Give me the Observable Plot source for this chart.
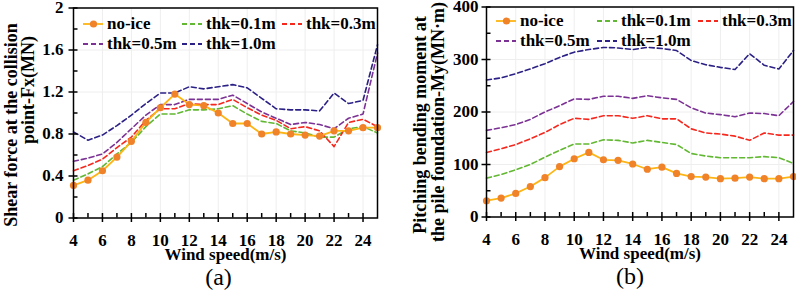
<!DOCTYPE html>
<html>
<head>
<meta charset="utf-8">
<script src="https://cdn.jsdelivr.net/npm/d3@7"></script>
<script src="https://cdn.jsdelivr.net/npm/@observablehq/plot@0.6"></script>
<style>
  html, body { margin: 0; padding: 0; background: #fff; }
  #wrap { position: relative; width: 796px; height: 293px; overflow: hidden; background: #fff;
          font-family: "Liberation Serif", "Times New Roman", serif; }
  .panel { position: absolute; top: 0; }
  .leg { position: absolute; height: 20px; display: flex; align-items: center;
         font-size: 17px; font-weight: bold; color: #000; white-space: nowrap; }
  .leg svg { display: block; margin-right: 4px; }
</style>
</head>
<body>
<div id="wrap">
  <div id="pa" class="panel" style="left:0"></div>
  <div id="pb" class="panel" style="left:398px"></div>
</div>
<script>
// ---------- data ----------
const windSpeed = [4,5,6,7,8,9,10,11,12,13,14,15,16,17,18,19,20,21,22,23,24,25];

// (a) Shear force at the collision point Fx (MN)
const fxNoIce = [0.31,0.36,0.45,0.58,0.73,0.91,1.05,1.18,1.08,1.07,1.00,0.90,0.90,0.80,0.82,0.80,0.79,0.78,0.83,0.83,0.86,0.86];
const fxThk01 = [0.36,0.42,0.49,0.61,0.72,0.87,0.99,0.99,1.03,1.03,1.04,1.07,0.99,0.92,0.90,0.83,0.81,0.77,0.77,0.85,0.87,0.81];
const fxThk03 = [0.45,0.50,0.56,0.67,0.77,0.93,1.04,1.04,1.09,1.08,1.08,1.13,1.05,0.98,0.93,0.85,0.87,0.83,0.68,0.91,0.94,0.87];
const fxThk05 = [0.54,0.57,0.61,0.72,0.85,0.98,1.08,1.08,1.13,1.13,1.13,1.17,1.09,1.01,0.95,0.89,0.91,0.89,0.85,0.95,0.99,1.57];
const fxThk10 = [0.82,0.74,0.79,0.88,0.98,1.09,1.19,1.19,1.25,1.23,1.25,1.27,1.24,1.14,1.04,1.03,1.03,1.02,1.19,1.09,1.12,1.65];

// (b) Pitching bending moment at the pile foundation My (MN·m)
const myNoIce = [31,36,45,58,75,96,111,123,109,108,101,91,95,83,77,76,73,74,76,73,73,77];
const myThk01 = [74,81,90,100,114,127,139,139,147,146,141,146,142,138,121,116,113,113,113,115,113,102];
const myThk03 = [123,130,138,149,161,176,188,186,193,193,188,193,187,187,168,160,158,154,146,160,156,156];
const myThk05 = [165,170,176,186,200,212,225,224,230,230,226,231,227,224,208,198,195,191,198,197,193,220];
const myThk10 = [261,265,273,282,292,304,314,319,323,322,319,323,321,317,298,290,285,281,311,289,282,317];

const seriesNames = ["no-ice","thk=0.1m","thk=0.3m","thk=0.5m","thk=1.0m"];
const seriesColors = ["#FDB515","#62B832","#F5281E","#7B3294","#2A2085"];
const markerColor = "#F0822A";

const xMajor = [4,6,8,10,12,14,16,18,20,22,24];
const xMinor = [5,7,9,11,13,15,17,19,21,23];
const fxMajor = [0,0.4,0.8,1.2,1.6,2];
const fxMinor = [0.2,0.6,1.0,1.4,1.8];
const myMajor = [0,100,200,300,400];
const myMinor = [50,150,250,350];

const xTitle = "Wind speed(m/s)";
const fxTitle = ["Shear force at the collision", "point-Fx(MN)"];
const myTitle = ["Pitching bending moment at", "the pile foundation-My(MN·m)"];

// ---------- helpers ----------
const FONT = "'Liberation Serif', 'Times New Roman', serif";
const TK = 4.5; // tick half-length in px

function makePanel(opts) {
  const {series, yDomain, yMajor, yMinor, margins, titleLines, titleDx, titleDy, tag, tagDx, yPad} = opts;
  const y0 = yDomain[0];
  const x0 = 4;
  const rows = windSpeed.map((w, i) => ({w, s0: series[0][i], s1: series[1][i], s2: series[2][i], s3: series[3][i], s4: series[4][i]}));
  const marks = [
    Plot.gridX(xMajor, {stroke: "#eeeeee", strokeOpacity: 1}),
    Plot.gridY(yMajor, {stroke: "#eeeeee", strokeOpacity: 1}),
    Plot.line(rows, {x: "w", y: "s1", stroke: seriesColors[1], strokeWidth: 1.6, strokeDasharray: "5,3"}),
    Plot.line(rows, {x: "w", y: "s2", stroke: seriesColors[2], strokeWidth: 1.6, strokeDasharray: "5,3"}),
    Plot.line(rows, {x: "w", y: "s3", stroke: seriesColors[3], strokeWidth: 1.6, strokeDasharray: "5,3"}),
    Plot.line(rows, {x: "w", y: "s4", stroke: seriesColors[4], strokeWidth: 1.6, strokeDasharray: "5,3"}),
    Plot.line(rows, {x: "w", y: "s0", stroke: seriesColors[0], strokeWidth: 1.8}),
    Plot.dot(rows, {x: "w", y: "s0", r: 3.6, fill: markerColor, stroke: "none"}),
    Plot.frame({stroke: "black", strokeWidth: 1.5}),
    // ticks: major cross the axis, minor point inward
    Plot.ruleX(xMajor, {x: d => d, y1: y0, y2: y0, insetTop: -TK, insetBottom: -TK, stroke: "black", strokeWidth: 1.5}),
    Plot.ruleX(xMinor, {x: d => d, y1: y0, y2: y0, insetTop: -TK, insetBottom: 0, stroke: "black", strokeWidth: 1.5}),
    Plot.ruleY(yMajor, {y: d => d, x1: x0, x2: x0, insetLeft: -TK, insetRight: -TK, stroke: "black", strokeWidth: 1.5}),
    Plot.ruleY(yMinor, {y: d => d, x1: x0, x2: x0, insetLeft: 0, insetRight: -TK, stroke: "black", strokeWidth: 1.5}),
    Plot.axisX(xMajor, {tickSize: 0, tickPadding: 16, label: null, tickFormat: d => `${d}`}),
    Plot.axisY(yMajor, {tickSize: 0, tickPadding: yPad, label: null, tickFormat: d => `${d}`}),
    Plot.text([xTitle], {frameAnchor: "bottom", lineAnchor: "middle", textAnchor: "middle", dy: 37, fontSize: 17, fontWeight: "bold"}),
    Plot.text([tag], {frameAnchor: "bottom", lineAnchor: "middle", textAnchor: "middle", dx: tagDx, dy: 59, fontSize: 24, fontWeight: "normal"}),
    Plot.text([titleLines[0]], {frameAnchor: "left", rotate: -90, textAnchor: "middle", lineAnchor: "middle", dx: titleDx[0], dy: titleDy[0], fontSize: 18, fontWeight: "bold"}),
    Plot.text([titleLines[1]], {frameAnchor: "left", rotate: -90, textAnchor: "middle", lineAnchor: "middle", dx: titleDx[1], dy: titleDy[1], fontSize: 18, fontWeight: "bold"})
  ];
  return Plot.plot({
    width: 398,
    height: 293,
    marginLeft: margins[0], marginRight: margins[1], marginTop: margins[2], marginBottom: margins[3],
    x: {domain: [4, 25]},
    y: {domain: yDomain},
    style: {fontFamily: FONT, fontSize: "17px", fontWeight: "bold", color: "black", background: "white", overflow: "visible"},
    marks
  });
}

const chartA = makePanel({
  series: [fxNoIce, fxThk01, fxThk03, fxThk05, fxThk10],
  yDomain: [0, 2], yMajor: fxMajor, yMinor: fxMinor,
  margins: [73, 21, 7.5, 75.5],
  titleLines: fxTitle, titleDx: [-62, -45], titleDy: [12, -23],
  tag: "(a)", tagDx: -7, yPad: 10
});
const chartB = makePanel({
  series: [myNoIce, myThk01, myThk03, myThk05, myThk10],
  yDomain: [0, 400], yMajor: myMajor, yMinor: myMinor,
  margins: [88, 3, 6.5, 76.5],
  titleLines: myTitle, titleDx: [-66, -48], titleDy: [13, 10],
  tag: "(b)", tagDx: -10, yPad: 8
});
document.getElementById("pa").append(chartA);
document.getElementById("pb").append(chartB);

// ---------- legends ----------
const legendLayouts = [
  {cols: [83, 182, 282], rows: [23.5, 44]},
  {cols: [496, 597, 698], rows: [20.5, 41]}
];
const wrap = document.getElementById("wrap");
legendLayouts.forEach(layout => {
  seriesNames.forEach((name, i) => {
    const div = document.createElement("div");
    div.className = "leg";
    div.style.left = layout.cols[i % 3] + "px";
    div.style.top = (layout.rows[Math.floor(i / 3)] - 10) + "px";
    const solid = i === 0;
    div.innerHTML =
      `<svg width="20" height="20"><line x1="0" x2="20" y1="10" y2="10" stroke="${seriesColors[i]}" stroke-width="1.8" ${solid ? "" : 'stroke-dasharray="5,3"'}/>` +
      (solid ? `<circle cx="10.5" cy="10" r="3.6" fill="${markerColor}"/>` : "") +
      `</svg><span>${name}</span>`;
    wrap.append(div);
  });
});
</script>
</body>
</html>
